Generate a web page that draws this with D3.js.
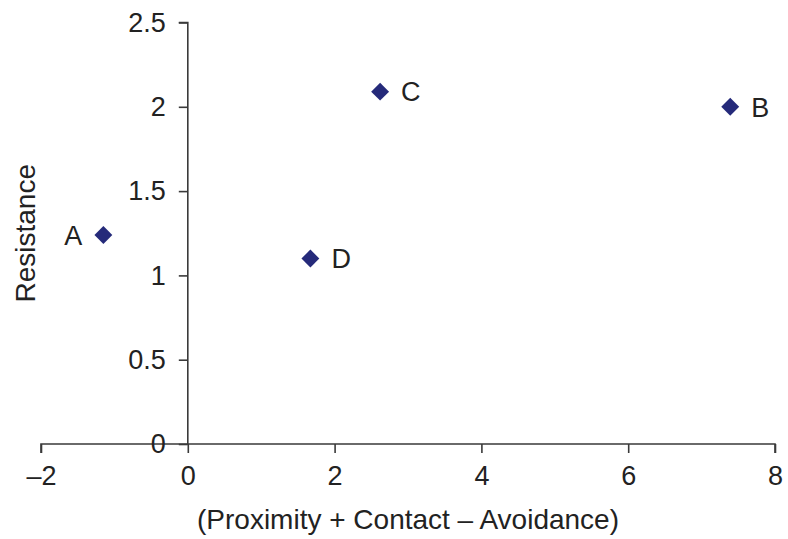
<!DOCTYPE html>
<html><head><meta charset="utf-8">
<script src="https://cdn.jsdelivr.net/npm/d3@7"></script>
<style>body{margin:0;background:#fff}svg{display:block}text{font-family:"Liberation Sans",Arial,sans-serif}</style>
</head><body><svg id="c" width="788" height="539"></svg>
<script>
const labels = ["A","B","C","D"];
const xValues = [-1.15, 7.39, 2.62, 1.67];
const yValues = [1.24, 2.0, 2.09, 1.1];
const xTicks = [-2, 0, 2, 4, 6, 8];
const yTicks = [0, 0.5, 1, 1.5, 2, 2.5];
const xTitle = "(Proximity + Contact \u2013 Avoidance)";
const yTitle = "Resistance";

const svg = d3.select("#c");
const fsTick = 27, fsTitle = 28, fsLab = 27;
const x = d3.scaleLinear().domain([-2, 8]).range([41, 775]);
const y = d3.scaleLinear().domain([0, 2.5]).range([444, 22.5]);
const axisColor = "#3a3a3a";

const gx = svg.append("g").attr("transform", `translate(0,${y(0)})`)
  .call(d3.axisBottom(x).tickValues(xTicks).tickSize(9).tickPadding(13).tickFormat(d => d < 0 ? "\u2013" + Math.abs(d) : String(d)));
const gy = svg.append("g").attr("transform", `translate(${x(0)},0)`)
  .call(d3.axisLeft(y).tickValues(yTicks).tickSize(9).tickPadding(13).tickFormat(d => String(d)));
[gx, gy].forEach(g => {
  g.select(".domain").attr("stroke", axisColor).attr("stroke-width", 1.6);
  g.selectAll(".tick line").attr("stroke", axisColor).attr("stroke-width", 1.6);
  g.selectAll(".tick text").attr("fill", "#222").style("font-size", fsTick + "px").style("font-family", "Liberation Sans, Arial, sans-serif");
});
gy.select(".domain").attr("d", `M-9,${y(2.5)}H0V${y(0)}`);
gx.select(".domain").attr("d", `M${x(-2)},9V0H${x(8)}V9`);

const data = labels.map((l, i) => ({l, x: xValues[i], y: yValues[i]}));
const sym = d3.symbol().type(d3.symbolSquare).size(160);
svg.append("g").selectAll("path").data(data).join("path")
  .attr("d", sym)
  .attr("transform", d => `translate(${x(d.x)},${y(d.y)}) rotate(45)`)
  .attr("fill", "#252a7a");
svg.append("g").selectAll("text").data(data).join("text")
  .attr("x", d => d.l === "A" ? x(d.x) - 21 : x(d.x) + 21)
  .attr("y", d => y(d.y))
  .attr("dy", "0.36em")
  .attr("text-anchor", d => d.l === "A" ? "end" : "start")
  .attr("fill", "#222").style("font-size", fsLab + "px")
  .text(d => d.l);

svg.append("text").attr("x", (x(-2) + x(8)) / 2).attr("y", 529)
  .attr("text-anchor", "middle").attr("fill", "#222").style("font-size", fsTitle + "px").text(xTitle);
svg.append("text").attr("transform", `translate(35,${(y(0) + y(2.5)) / 2}) rotate(-90)`)
  .attr("text-anchor", "middle").attr("fill", "#222").style("font-size", fsTitle + "px").text(yTitle);
</script></body></html>
